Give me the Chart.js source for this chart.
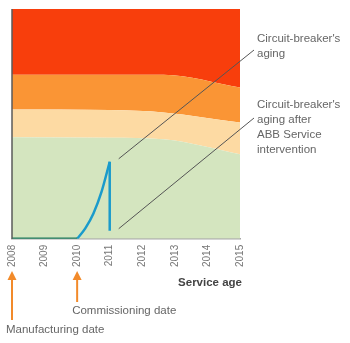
<!DOCTYPE html>
<html>
<head>
<meta charset="utf-8">
<script src="https://cdn.jsdelivr.net/npm/chart.js@4.4.1/dist/chart.umd.min.js"></script>
<style>
  html, body { margin: 0; padding: 0; background: #fff; }
  #wrap { width: 350px; height: 343px; }
</style>
</head>
<body>
<div id="wrap"><canvas id="chart" width="350" height="343"></canvas></div>
<script>
// x axis tick labels (years)
const years = [2008, 2009, 2010, 2011, 2012, 2013, 2014, 2015];

// upper edge of each colour band, 0 = bottom of the plot, 100 = top
const bandYears = [2008, 2011, 2012.65, 2015];
const greenTop = [44.2, 44.0, 43.3, 36.8];
const peachTop = [56.3, 56.0, 55.0, 50.6];
const orangeTop = [71.4, 71.4, 71.4, 65.8];
const redTop = [100, 100, 100, 100];

// flat part before commissioning
const idleYears = [2008, 2010];
const idleLevel = [0, 0];

// aging curve up to the service intervention
const agingYears = [2010, 2010.25, 2010.5, 2010.75, 2011];
const agingLevel = [0, 4.5, 11.0, 20.5, 33.5];

// drop after the ABB service intervention
const serviceYears = [2011, 2011];
const serviceLevel = [33.5, 3.5];

const FONT = '"Liberation Sans", Arial, sans-serif';

const toPoints = (xs, ys) => xs.map((x, i) => ({ x: x, y: ys[i] }));

const band = (values, color, fill) => ({
    data: toPoints(bandYears, values),
    borderWidth: 0,
    pointRadius: 0,
    backgroundColor: color,
    fill: fill,
    cubicInterpolationMode: 'monotone'
});

const curve = (xs, ys, color) => ({
    data: toPoints(xs, ys),
    borderColor: color,
    borderWidth: 2.5,
    pointRadius: 0,
    fill: false,
    cubicInterpolationMode: 'monotone'
});

// draws the notes, arrows and axis caption around the plot
const notesPlugin = {
    id: 'notes',
    afterDraw: (chart) => {
        const ctx = chart.ctx;
        const area = chart.chartArea;
        const xs = chart.scales.x;
        const ys = chart.scales.y;
        ctx.save();

        // left axis line
        ctx.strokeStyle = '#5a5a5a';
        ctx.lineWidth = 1.5;
        ctx.beginPath();
        ctx.moveTo(area.left, area.top);
        ctx.lineTo(area.left, area.bottom);
        ctx.stroke();

        // leader lines from the curve to the notes
        const px = xs.getPixelForValue(serviceYears[0]) + 9;
        ctx.strokeStyle = '#555';
        ctx.lineWidth = 1;
        ctx.beginPath();
        ctx.moveTo(px, ys.getPixelForValue(serviceLevel[0]) - 3);
        ctx.lineTo(area.right + 14, area.top + 41);
        ctx.moveTo(px, ys.getPixelForValue(serviceLevel[1]) - 2);
        ctx.lineTo(area.right + 14, area.top + 109);
        ctx.stroke();

        // note texts
        ctx.fillStyle = '#666';
        ctx.font = '11.5px ' + FONT;
        ctx.textAlign = 'left';
        ctx.textBaseline = 'middle';
        const tx = area.right + 17;
        ['Circuit-breaker\'s', 'aging'].forEach((t, i) => ctx.fillText(t, tx, area.top + 30 + i * 15));
        ['Circuit-breaker\'s', 'aging after', 'ABB Service', 'intervention']
            .forEach((t, i) => ctx.fillText(t, tx, area.top + 96 + i * 15));

        // axis caption
        ctx.fillStyle = '#444';
        ctx.font = 'bold 11.5px ' + FONT;
        ctx.textAlign = 'right';
        ctx.fillText('Service age', area.right + 2, 283);

        // orange arrows for the two dates
        const arrow = (x, top, bottom) => {
            ctx.strokeStyle = '#f28a2a';
            ctx.fillStyle = '#f28a2a';
            ctx.lineWidth = 2;
            ctx.beginPath();
            ctx.moveTo(x, top + 6);
            ctx.lineTo(x, bottom);
            ctx.stroke();
            ctx.beginPath();
            ctx.moveTo(x, top);
            ctx.lineTo(x - 4.5, top + 9);
            ctx.lineTo(x + 4.5, top + 9);
            ctx.closePath();
            ctx.fill();
        };
        arrow(xs.getPixelForValue(years[0]), 271, 320);
        arrow(xs.getPixelForValue(years[2]), 271, 302);

        ctx.fillStyle = '#666';
        ctx.font = '11.5px ' + FONT;
        ctx.textAlign = 'left';
        ctx.fillText('Commissioning date', xs.getPixelForValue(years[2]) - 5, 311);
        ctx.fillText('Manufacturing date', 6, 330);

        ctx.restore();
    }
};

new Chart(document.getElementById('chart'), {
    type: 'line',
    data: {
        datasets: [
            // lines first so they are painted above the bands
            curve(idleYears, idleLevel, '#1d7a5c'),
            curve(agingYears, agingLevel, '#1a9bcb'),
            curve(serviceYears, serviceLevel, '#1a9bcb'),
            band(greenTop, '#d4e5bf', 'origin'),
            band(peachTop, '#fddaa3', '-1'),
            band(orangeTop, '#fa9535', '-1'),
            band(redTop, '#f83e0c', '-1')
        ]
    },
    options: {
        responsive: false,
        animation: false,
        layout: { padding: { left: 12, right: 110, top: 9, bottom: 70 } },
        plugins: {
            legend: { display: false },
            tooltip: { enabled: false }
        },
        scales: {
            x: {
                type: 'linear',
                min: years[0],
                max: years[years.length - 1],
                grid: { display: false, drawTicks: false, tickLength: 0 },
                border: { display: true, color: '#a8a8a8', width: 1.5 },
                afterBuildTicks: (scale) => { scale.ticks = years.map(v => ({ value: v })); },
                ticks: {
                    minRotation: 90,
                    maxRotation: 90,
                    padding: 6,
                    color: '#777',
                    font: { family: FONT, size: 10 },
                    callback: (v) => String(v)
                }
            },
            y: {
                display: false,
                min: 0,
                max: 100
            }
        }
    },
    plugins: [notesPlugin]
});
</script>
</body>
</html>
